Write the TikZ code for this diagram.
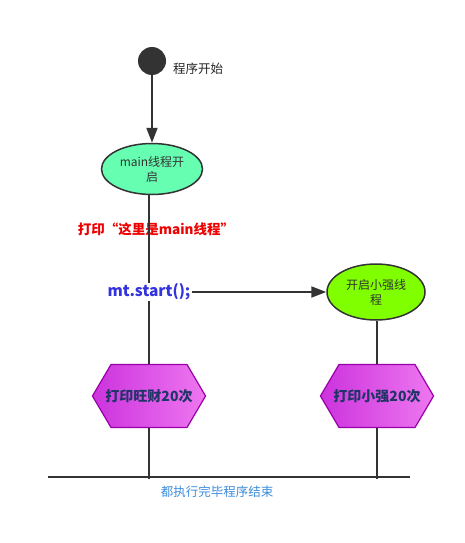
\documentclass[tikz,border=0pt]{standalone}
\usepackage{fontspec}
\setmainfont{Noto Sans CJK SC}
\usetikzlibrary{arrows.meta, shapes.geometric, shapes.symbols}
\definecolor{linegray}{HTML}{333333}
\definecolor{mintfill}{HTML}{66FFB2}
\definecolor{limefill}{HTML}{80FF00}
\definecolor{hexleft}{HTML}{CC33DD}
\definecolor{hexright}{HTML}{EE77F0}
\definecolor{hexborder}{HTML}{9900AA}
\definecolor{hextext}{HTML}{1F3566}
\definecolor{codeblue}{HTML}{3333DD}
\definecolor{endblue}{HTML}{3C8CDC}
\definecolor{printred}{HTML}{EE0000}

\begin{document}
\begin{tikzpicture}[x=1pt, y=-1pt,
		conn/.style={draw=linegray, line width=2pt},
		arr/.style={conn, -{Triangle[length=15pt, width=11pt]}},
		thread/.style={ellipse, draw=linegray, line width=1.5pt, inner sep=0pt,
			align=center, font=\fontsize{12}{15}\selectfont, text=black!80},
		printhex/.style={signal, signal to=east and west, signal pointer angle=119,
			draw=hexborder, line width=1.2pt, left color=hexleft, right color=hexright,
			minimum height=63pt, inner sep=0pt,
			font=\fontsize{14}{16}\bfseries, text=hextext}]
		% Frame
		\useasboundingbox (0,0) rectangle (464,543);
		
		% Start point
		\node[circle, fill=linegray, minimum size=28pt, inner sep=0pt] (start) at (152,61) {};
		\node[font=\fontsize{12.5}{15}\selectfont, text=black!85] (startlabel) at (198,69) {程序开始};
		
		% Main thread
		\node[thread, fill=mintfill, minimum width=101pt, minimum height=51pt] (mainth) at (152,169) {main线程开\\启};
		\draw[arr] (start) -- (mainth);
		
		% Print in main thread
		\node[font=\fontsize{13.5}{15}\bfseries, text=printred] (printmain) at (156,229) {打印“这里是main线程”};
		
		% Start the second thread
		\node[fill=white, inner sep=1pt, font=\fontsize{15.5}{18}\bfseries, text=codeblue] (mtstart) at (149,292) {mt.start();};
		\node[thread, fill=limefill, minimum width=98pt, minimum height=56pt] (xqth) at (376,292) {开启小强线\\程};
		\draw[arr] (mtstart.east) -- (xqth.west);
		
		% Print loops (text box narrower than the label, as in the original)
		\node[printhex] (wcprint) at (149,396) {\makebox[76pt]{打印旺财20次}};
		\node[printhex] (xqprint) at (377,396) {\makebox[76pt]{打印小强20次}};
		\draw[conn] (mainth.south -| mtstart.north) -- (mtstart.north);
		\draw[conn] (mtstart.south) -- (wcprint.north);
		\draw[conn] (xqth.south -| xqprint.north) -- (xqprint.north);
		
		% End bar
		\coordinate (barleft) at (48,477);
		\coordinate (barright) at (410,477);
		\draw[conn] (barleft) -- (barright);
		\draw[conn] (wcprint.south) -- ([yshift=-2pt]wcprint.south |- barleft);
		\draw[conn] (xqprint.south) -- ([yshift=-2pt]xqprint.south |- barleft);
		\node[font=\fontsize{12.5}{15}\selectfont, text=endblue] (endlabel) at (217,492) {都执行完毕程序结束};
	\end{tikzpicture}
\end{document}
